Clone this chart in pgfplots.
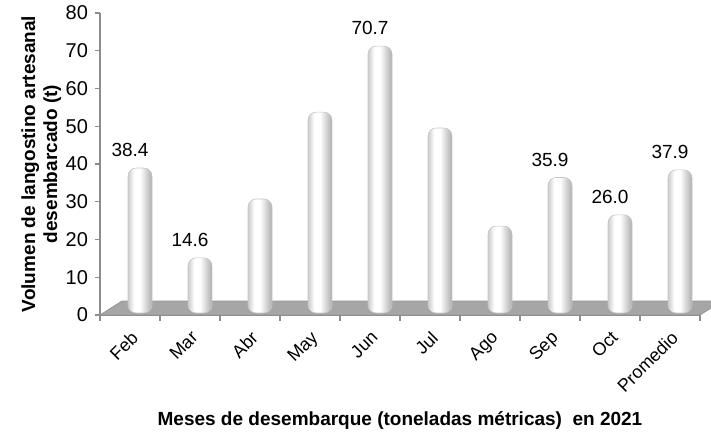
\documentclass[border=0pt]{standalone}
\usepackage{pgfplots}
\pgfplotsset{compat=1.18}
\usepackage{fontspec}
\setmainfont{Liberation Sans}

\definecolor{barside}{gray}{0.80}
\definecolor{barshadow}{gray}{0.68}
\definecolor{floorgray}{gray}{0.65}
\definecolor{flooredge}{gray}{0.58}
\definecolor{axisgray}{gray}{0.55}

% soft cylinder look: grey edges, bright band left of centre
\pgfdeclarehorizontalshading{cylinder}{100bp}{%
  color(0bp)=(barside); color(25bp)=(barside);
  color(38bp)=(white); color(50bp)=(white);
  color(75bp)=(barshadow); color(100bp)=(barshadow)}

\pgfplotsset{
  cylbar/.style={ybar, bar width=12pt, bar shift=5pt, yshift=1pt,
    shade, shading=cylinder, draw=gray!45, line width=0.3pt,
    rounded corners=4pt},
  valued/.style={point meta=explicit symbolic, nodes near coords,
    nodes near coords style={font=\fontsize{9.5}{11}\selectfont,
      text=black, yshift=2pt}},
}

\begin{document}
\begin{tikzpicture}
\useasboundingbox (-50pt,-59pt) rectangle (305.5pt,157.5pt);
\begin{axis}[
  at={(0,0)}, anchor=south west,
  scale only axis, width=300pt, height=151pt,
  clip=false,
  xmin=-0.5, xmax=9.5, ymin=0, ymax=80,
  ytick={0,10,...,80},
  xtick={0,...,9},
  xticklabels={Feb,Mar,Abr,May,Jun,Jul,Ago,Sep,Oct,Promedio},
  minor xtick={-0.5,0.5,...,9.5},
  major x tick style={draw=none},
  major tick length=2.5pt, minor tick length=3pt,
  tick align=outside,
  axis lines*=left,
  axis line style={axisgray, line width=0.6pt},
  tick style={axisgray, line width=0.6pt},
  /pgf/number format/assume math mode=true,
  xticklabel style={rotate=45, anchor=north east,
    font=\fontsize{9}{10}\selectfont},
  yticklabel style={anchor=east, xshift=0pt,
    font=\fontsize{10}{11}\selectfont},
  ylabel={Volumen de langostino artesanal\\desembarcado (t)},
  xlabel={Meses de desembarque (toneladas métricas)\ \ en 2021},
  every axis y label/.style={at={(axis description cs:-0.098,0.5)},
    rotate=90, anchor=center, align=center,
    font=\bfseries\fontsize{9.5}{11}\selectfont},
  every axis x label/.style={at={(axis description cs:0.5,-0.3675)},
    anchor=base, font=\bfseries\fontsize{9.5}{11}\selectfont},
]
% grey floor under the columns
\fill[floorgray, draw=flooredge, line width=0.4pt]
  (axis cs:-0.5,0) -- (axis cs:9.5,0) -- (axis cs:9.867,3.7)
  -- (axis cs:-0.133,3.7) -- cycle;
% landed artisanal langostino, tonnes per month (2021), one column each
\addplot[cylbar, valued] coordinates {(0,38.4) [38.4]};
\addplot[cylbar, valued] coordinates {(1,14.6) [14.6]};
\addplot[cylbar] coordinates {(2,30.2)};
\addplot[cylbar] coordinates {(3,53.2)};
\addplot[cylbar, valued] coordinates {(4,70.7) [70.7]};
\addplot[cylbar] coordinates {(5,49.0)};
\addplot[cylbar] coordinates {(6,23.0)};
\addplot[cylbar, valued] coordinates {(7,35.9) [35.9]};
\addplot[cylbar, valued] coordinates {(8,26.0) [26.0]};
\addplot[cylbar, valued] coordinates {(9,37.9) [37.9]};
\end{axis}
\end{tikzpicture}
\end{document}
